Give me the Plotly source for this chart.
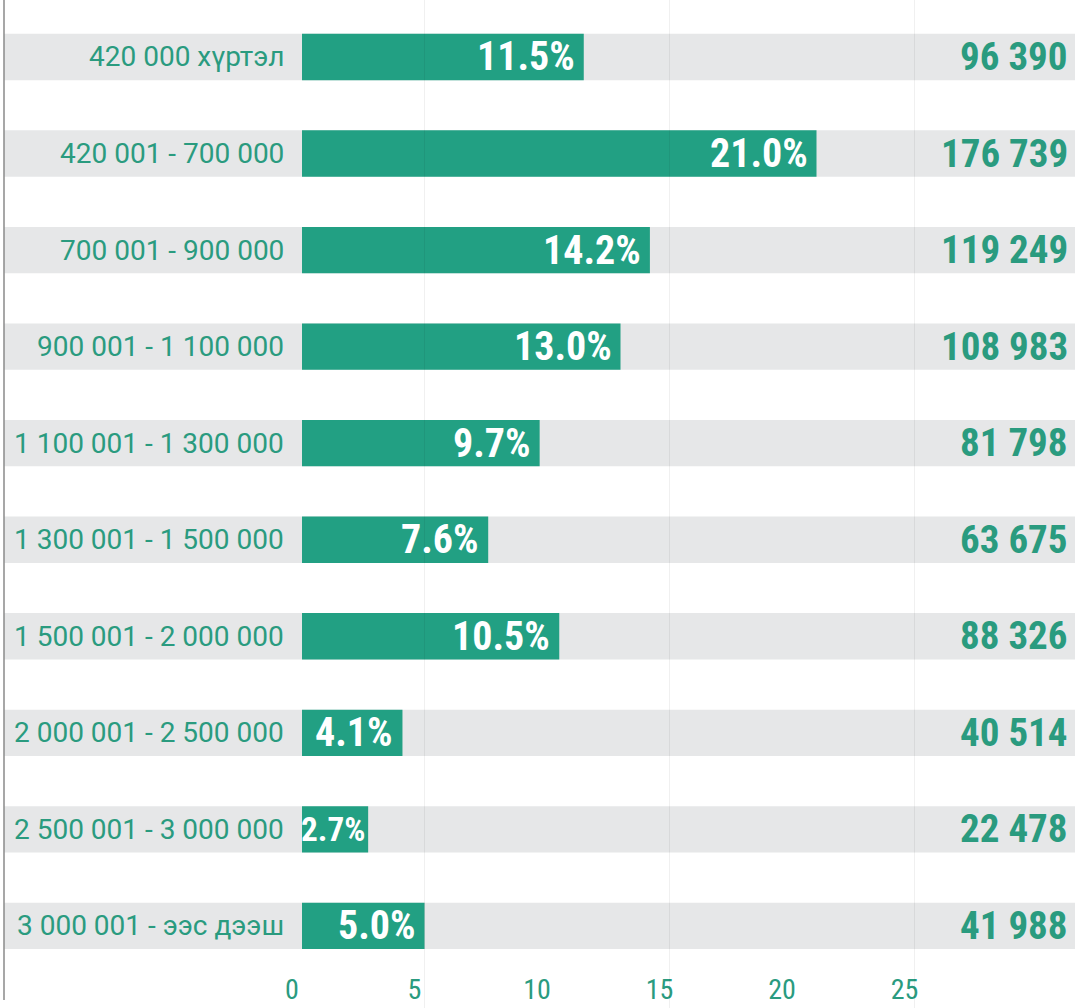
import plotly.graph_objects as go

categories = [
    "420 000 хүртэл",
    "420 001 - 700 000",
    "700 001 - 900 000",
    "900 001 - 1 100 000",
    "1 100 001 - 1 300 000",
    "1 300 001 - 1 500 000",
    "1 500 001 - 2 000 000",
    "2 000 001 - 2 500 000",
    "2 500 001 - 3 000 000",
    "3 000 001 - ээс дээш",
]
percent = [11.5, 21.0, 14.2, 13.0, 9.7, 7.6, 10.5, 4.1, 2.7, 5.0]
counts = [96390, 176739, 119249, 108983, 81798, 63675, 88326, 40514, 22478, 41988]
tick_values = [0, 5, 10, 15, 20, 25]
grid_values = [5, 15, 25]

GREEN = "#22a083"
TEXT_GREEN = "#2a9b7f"
GRAY = "#e6e7e8"
COND = "Roboto Condensed, Liberation Sans Narrow, Arial Narrow, DejaVu Sans Condensed, sans-serif"

W, H = 1075, 1008
x_lo, x_hi = -12.327, 31.551
px_per_unit = W / (x_hi - x_lo)
bg_start = -12.16
idx = list(range(len(categories)))

fig = go.Figure()
fig.add_trace(go.Bar(
    y=idx, x=[x_hi - bg_start] * len(idx), base=[bg_start] * len(idx),
    orientation="h", marker=dict(color=GRAY, line=dict(width=0)),
    width=0.48, hoverinfo="skip", showlegend=False,
))
fig.add_trace(go.Bar(
    y=idx, x=percent, orientation="h",
    marker=dict(color=GREEN, line=dict(width=0)),
    width=0.48, showlegend=False,
))
fig.update_layout(barmode="overlay")

ann = []
for i, (c, p, n) in enumerate(zip(categories, percent, counts)):
    label = f"{p:.1f}%"
    size, shift = 40, -7
    est_w = 19 * len(label)
    avail = p * px_per_unit - 3
    if est_w > avail:
        size, shift = 40 * avail / est_w, -1
    ann.append(dict(x=0, y=i, xref="x", yref="y", text=c, showarrow=False,
                    xanchor="right", xshift=-16,
                    font=dict(family="Roboto, sans-serif", size=28, color=TEXT_GREEN)))
    ann.append(dict(x=p, y=i, xref="x", yref="y", text=label, showarrow=False,
                    xanchor="right", xshift=shift,
                    font=dict(family=COND, size=size, color="white", weight="bold")))
    ann.append(dict(x=1, y=i, xref="paper", yref="y", text=f"{n:,}".replace(",", " "),
                    showarrow=False, xanchor="right", xshift=-5,
                    font=dict(family=COND, size=39, color=TEXT_GREEN, weight="bold")))

shapes = [dict(type="line", xref="x", yref="paper", x0=g, x1=g, y0=0, y1=1,
               line=dict(color="rgba(0,0,0,0.06)", width=1), layer="above")
          for g in grid_values]
shapes.append(dict(type="line", xref="paper", yref="paper", x0=4 / W, x1=4 / W,
                   y0=8 / H, y1=1, line=dict(color="#8a8a8a", width=1.5)))

fig.update_layout(
    width=W, height=H,
    margin=dict(l=0, r=0, t=0, b=0),
    paper_bgcolor="white", plot_bgcolor="white",
    annotations=ann, shapes=shapes,
    xaxis=dict(range=[x_lo, x_hi], tickvals=tick_values, showgrid=False,
               zeroline=False, showline=False, ticks="",
               ticklabelposition="inside", ticklabelshift=-10,
               tickfont=dict(family=COND, size=28, color=TEXT_GREEN)),
    yaxis=dict(range=[9.85, -0.59], showticklabels=False, showgrid=False,
               zeroline=False, showline=False),
)

fig.write_html("out.html", config={"displayModeBar": False},
               post_script="document.body.style.margin='0';")
